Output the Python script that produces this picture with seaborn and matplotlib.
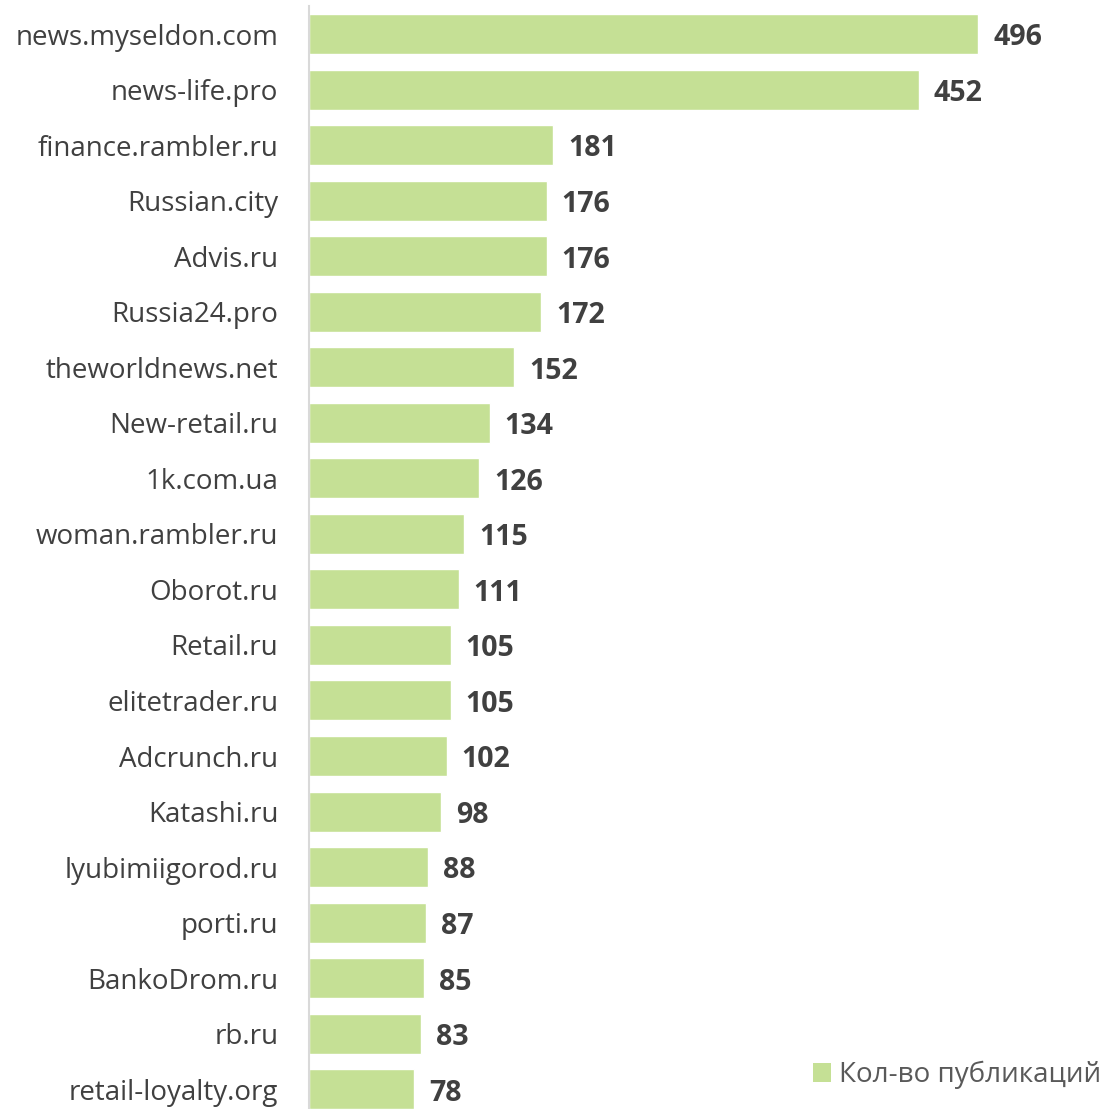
import matplotlib
matplotlib.use("Agg")
import matplotlib.pyplot as plt
import seaborn as sns
import pandas as pd
from matplotlib.patches import Patch

sites = ["news.myseldon.com", "news-life.pro", "finance.rambler.ru", "Russian.city",
         "Advis.ru", "Russia24.pro", "theworldnews.net", "New-retail.ru", "1k.com.ua",
         "woman.rambler.ru", "Oborot.ru", "Retail.ru", "elitetrader.ru", "Adcrunch.ru",
         "Katashi.ru", "lyubimiigorod.ru", "porti.ru", "BankoDrom.ru", "rb.ru",
         "retail-loyalty.org"]
counts = [496, 452, 181, 176, 176, 172, 152, 134, 126, 115, 111, 105, 105, 102,
          98, 88, 87, 85, 83, 78]
series_name = "Кол-во публикаций"

df = pd.DataFrame({"site": sites, "count": counts})

sns.set_theme(style="white")
plt.rcParams['font.family'] = ['Open Sans', 'DejaVu Sans']

bar_color = "#c5e095"
text_color = "#404040"

fig = plt.figure(figsize=(11.08, 11.09), dpi=100)
ax = fig.add_axes([309/1108, 1 - 1117/1109, (1108-309)/1108, (1117-6.25)/1109])

sns.barplot(data=df, y="site", x="count", orient="h", color=bar_color,
            width=0.72, ax=ax, saturation=1)

ax.set_xlim(0, 592)
ax.set_ylim(len(sites) - 0.5, -0.5)
ax.set_xlabel("")
ax.set_ylabel("")
ax.set_xticks([])
for s in ["top", "right", "bottom"]:
    ax.spines[s].set_visible(False)
ax.spines["left"].set_color("#d9d9d9")
ax.spines["left"].set_linewidth(1.5)
ax.tick_params(axis="y", length=0, pad=22, labelsize=20, labelcolor=text_color)

for i, v in enumerate(counts):
    ax.text(v + 11, i + 0.07, str(v), va="center", ha="left", fontsize=20.5,
            fontweight="bold", color=text_color)

handle = Patch(facecolor=bar_color, edgecolor="none", label=series_name)
leg = fig.legend(handles=[handle], loc="lower right", bbox_to_anchor=(1.009, 0.003),
                 frameon=False, fontsize=20, handlelength=0.65, handleheight=0.65,
                 handletextpad=0.3, borderaxespad=0.2)
for t in leg.get_texts():
    t.set_color("#595959")

fig.savefig("out.png", dpi=100)
